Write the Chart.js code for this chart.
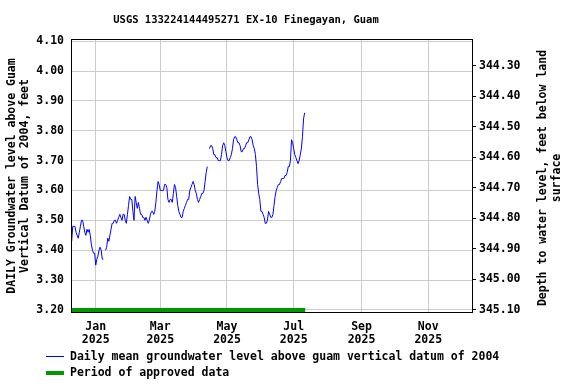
<!DOCTYPE html>
<html><head><meta charset="utf-8">
<script src="https://cdn.jsdelivr.net/npm/chart.js@4/dist/chart.umd.min.js"></script>
<style>html,body{margin:0;padding:0;background:#fff;}#wrap{position:relative;width:576px;height:384px;}</style>
</head><body><div id="wrap"><canvas id="c" width="576" height="384"></canvas></div>
<script>
// ---- data ----
const chartTitle = 'USGS 133224144495271 EX-10 Finegayan, Guam';
const leftAxisTitle = ['DAILY Groundwater level above Guam', 'Vertical Datum of 2004, feet'];
const rightAxisTitle = ['Depth to water level, feet below land', 'surface'];
const seriesName = 'Daily mean groundwater level above guam vertical datum of 2004';
const approvedName = 'Period of approved data';
const startDate = '2024-12-10';          // first daily value
const levels = [
 3.43,3.48,3.48,3.48,3.46,3.45,3.44,3.46,3.48,3.50,3.50,3.48,3.46,3.45,3.47,3.46,3.47,3.45,3.42,3.40,3.39,3.39,
 3.35,3.37,3.38,3.40,3.41,3.40,3.37,3.37,
 null,
 3.40,3.41,3.44,3.43,3.45,3.47,3.49,3.49,3.50,3.50,3.49,3.50,3.51,3.52,3.51,3.50,3.52,3.52,3.50,3.49,3.52,
 3.55,3.58,3.57,3.57,3.53,3.50,3.58,3.56,3.54,3.56,3.54,3.52,3.52,3.51,3.51,3.50,3.51,3.50,3.49,3.50,
 3.52,3.53,3.53,3.52,3.53,3.56,3.60,3.63,3.62,3.60,3.60,3.60,3.60,3.62,3.62,3.61,3.57,3.56,3.57,3.57,
 3.56,3.59,3.62,3.61,3.58,3.55,3.53,3.52,3.51,3.51,3.53,3.54,3.55,3.56,3.57,3.57,3.60,3.61,3.62,3.63,
 3.62,3.60,3.59,3.57,3.56,3.57,3.58,3.59,3.59,3.60,3.63,3.66,3.68,
 null,
 3.74,3.75,3.75,3.74,3.72,3.72,3.71,3.71,3.70,3.70,3.70,3.72,3.75,3.76,3.75,3.73,3.71,3.70,3.70,3.71,
 3.72,3.74,3.77,3.78,3.78,3.77,3.76,3.76,3.75,3.73,3.73,3.74,3.74,3.75,3.76,3.76,3.77,3.78,3.78,3.77,
 3.75,3.74,3.72,3.68,3.62,3.59,3.57,3.53,3.53,3.52,3.51,3.49,3.49,3.50,3.53,3.52,3.51,3.51,3.52,3.55,
 3.58,3.60,3.61,3.62,3.62,3.63,3.64,3.64,3.64,3.65,3.65,3.66,3.68,3.68,3.70,3.77,3.76,3.74,3.72,3.71,
 3.70,3.69,3.70,3.72,3.74,3.78,3.84,3.86
];
const approvedStart = '2024-12-10';
const approvedEnd = '2025-07-11';
const leftTicks = [3.20,3.30,3.40,3.50,3.60,3.70,3.80,3.90,4.00,4.10];
const rightTicks = [344.30,344.40,344.50,344.60,344.70,344.80,344.90,345.00,345.10];
const monthTickDates = ['2025-01-01','2025-03-01','2025-05-01','2025-07-01','2025-09-01','2025-11-01'];
const monthTickLabels = [['Jan','2025'],['Mar','2025'],['May','2025'],['Jul','2025'],['Sep','2025'],['Nov','2025']];

// ---- helpers ----
const DAY = 86400000, EPOCH = Date.UTC(2025,0,1);
function dayOf(s){const p=s.split('-').map(Number);return (Date.UTC(p[0],p[1]-1,p[2])-EPOCH)/DAY;}
const d0 = dayOf(startDate);
const seriesPts = levels.map((v,i)=>({x:d0+i,y:v}));
const approvedPts = [{x:dayOf(approvedStart)-0.5,y:leftTicks[0]},{x:dayOf(approvedEnd)+0.5,y:leftTicks[0]}];
const F = 'DejaVu Sans Mono';
const tickFont = {family:F,size:11.5,weight:'bold',lineHeight:1.16};

const deco = {
  id:'deco',
  afterDraw(chart){
    const ctx = chart.ctx, a = chart.chartArea;
    ctx.save();
    ctx.strokeStyle = '#000'; ctx.lineWidth = 1;
    ctx.strokeRect(a.left+0.5, a.top-0.5, a.right-a.left, a.bottom-a.top+1);
    ctx.fillStyle = '#000';
    ctx.font = 'bold 10.5px "DejaVu Sans Mono"';
    ctx.textAlign = 'center'; ctx.textBaseline = 'middle';
    ctx.fillText(chartTitle, 246, 20);
    ctx.font = 'bold 11.5px "DejaVu Sans Mono"';
    rightAxisTitle.forEach((t,i)=>{
      ctx.save(); ctx.translate(543 + i*14, 178); ctx.rotate(-Math.PI/2);
      ctx.fillText(t, 0, 0); ctx.restore();
    });
    // legend
    ctx.textAlign = 'left';
    ctx.strokeStyle = '#0000ff'; ctx.lineWidth = 1;
    ctx.beginPath(); ctx.moveTo(46,356.5); ctx.lineTo(64,356.5); ctx.stroke();
    ctx.fillText(seriesName, 70, 357);
    ctx.fillStyle = '#009900'; ctx.fillRect(46,371,18,4);
    ctx.fillStyle = '#000';
    ctx.fillText(approvedName, 70, 373);
    ctx.restore();
  }
};

new Chart(document.getElementById('c'), {
  type:'line',
  data:{datasets:[
    {label:seriesName,data:seriesPts,borderColor:'#0000ff',borderWidth:1,pointRadius:0,tension:0,spanGaps:false,yAxisID:'y'},
    {label:approvedName,data:approvedPts,borderColor:'#009900',borderWidth:4,pointRadius:0,borderCapStyle:'butt',yAxisID:'y'}
  ]},
  options:{
    responsive:false, animation:false, devicePixelRatio:1,
    layout:{padding:{top:40,left:0,right:0,bottom:0}},
    plugins:{legend:{display:false},title:{display:false},tooltip:{enabled:false}},
    scales:{
      x:{type:'linear',min:-22.6,max:344,
        afterBuildTicks:s=>{s.ticks=monthTickDates.map(t=>({value:dayOf(t)}));},
        afterFit:s=>{s.height=72;},
        grid:{color:'#cccccc',drawTicks:false,lineWidth:1},
        border:{display:false},
        ticks:{autoSkip:false,maxRotation:0,padding:8,color:'#000',font:tickFont,callback:(v,i)=>monthTickLabels[i]}
      },
      y:{position:'left',min:3.193,max:4.104,
        afterBuildTicks:s=>{s.ticks=leftTicks.map(v=>({value:v}));},
        afterFit:s=>{s.width=71;},
        grid:{color:'#cccccc',drawTicks:false,lineWidth:1},
        border:{display:false},
        ticks:{padding:7,color:'#000',font:tickFont,callback:v=>Number(v).toFixed(2)},
        title:{display:true,text:leftAxisTitle,color:'#000',font:{family:F,size:11.5,weight:'bold',lineHeight:1.13},padding:{top:5.5,bottom:0}}
      },
      y2:{position:'right',reverse:true,min:344.215,max:345.107,
        afterBuildTicks:s=>{s.ticks=rightTicks.map(v=>({value:v}));},
        afterFit:s=>{s.width=104;},
        grid:{drawOnChartArea:false,drawTicks:true,tickLength:4,color:'#000'},
        border:{display:false},
        ticks:{padding:3,color:'#000',font:tickFont,callback:v=>Number(v).toFixed(2)}
      }
    }
  },
  plugins:[deco]
});
</script></body></html>
